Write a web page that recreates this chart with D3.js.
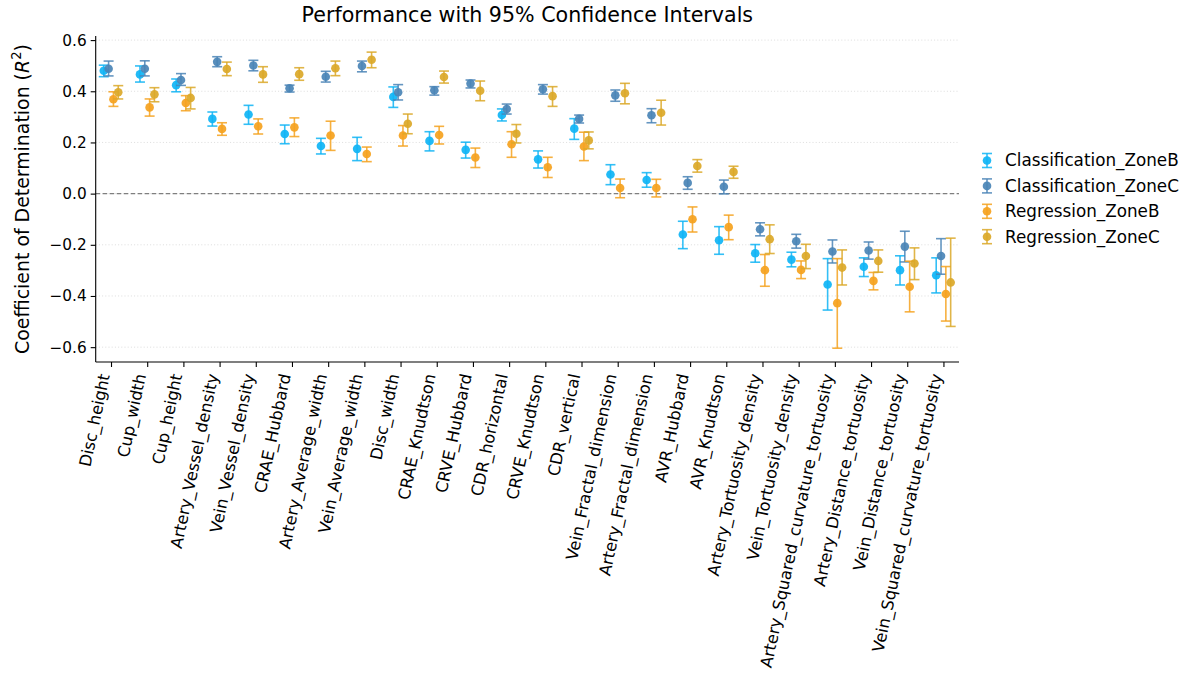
<!DOCTYPE html>
<html>
<head>
<meta charset="utf-8">
<script src="https://cdn.jsdelivr.net/npm/d3@7"></script>
<style>
  html, body { margin: 0; padding: 0; background: #ffffff; }
  svg { display: block; font-family: "DejaVu Sans", sans-serif; }
</style>
</head>
<body>
<svg id="chart" width="1189" height="673"></svg>
<script>
// Features, in plotted order
const features = [
  "Disc_height", "Cup_width", "Cup_height", "Artery_Vessel_density", "Vein_Vessel_density",
  "CRAE_Hubbard", "Artery_Average_width", "Vein_Average_width", "Disc_width", "CRAE_Knudtson",
  "CRVE_Hubbard", "CDR_horizontal", "CRVE_Knudtson", "CDR_vertical", "Vein_Fractal_dimension",
  "Artery_Fractal_dimension", "AVR_Hubbard", "AVR_Knudtson", "Artery_Tortuosity_density",
  "Vein_Tortuosity_density", "Artery_Squared_curvature_tortuosity", "Artery_Distance_tortuosity",
  "Vein_Distance_tortuosity", "Vein_Squared_curvature_tortuosity"
];

const seriesNames = ["Classification_ZoneB", "Classification_ZoneC", "Regression_ZoneB", "Regression_ZoneC"];
const seriesColors = ["#0fb4f5", "#4a84b6", "#f5a21e", "#dba828"];

// R² mean, lower and upper 95% CI bounds per series
const classZoneBMean = [0.480, 0.466, 0.424, 0.292, 0.309, 0.233, 0.186, 0.175, 0.378, 0.206, 0.171, 0.307, 0.134, 0.254, 0.075, 0.053, -0.160, -0.182, -0.233, -0.258, -0.355, -0.286, -0.299, -0.319];
const classZoneBLow  = [0.457, 0.436, 0.398, 0.264, 0.271, 0.195, 0.155, 0.129, 0.337, 0.167, 0.139, 0.284, 0.100, 0.212, 0.035, 0.025, -0.215, -0.237, -0.268, -0.286, -0.455, -0.324, -0.357, -0.388];
const classZoneBHigh = [0.502, 0.499, 0.448, 0.319, 0.345, 0.268, 0.216, 0.220, 0.417, 0.242, 0.201, 0.331, 0.167, 0.293, 0.113, 0.082, -0.108, -0.129, -0.199, -0.229, -0.254, -0.251, -0.243, -0.251];

const classZoneCMean = [0.488, 0.488, 0.444, 0.515, 0.501, 0.412, 0.457, 0.499, 0.396, 0.404, 0.430, 0.331, 0.408, 0.292, 0.384, 0.306, 0.042, 0.027, -0.139, -0.186, -0.226, -0.222, -0.207, -0.244];
const classZoneCLow  = [0.460, 0.460, 0.423, 0.496, 0.480, 0.397, 0.436, 0.476, 0.366, 0.385, 0.413, 0.311, 0.389, 0.276, 0.361, 0.277, 0.017, -0.001, -0.165, -0.213, -0.271, -0.256, -0.267, -0.315];
const classZoneCHigh = [0.518, 0.519, 0.469, 0.535, 0.521, 0.424, 0.478, 0.518, 0.426, 0.418, 0.444, 0.350, 0.426, 0.307, 0.405, 0.332, 0.066, 0.053, -0.114, -0.159, -0.181, -0.189, -0.147, -0.176];

const regZoneBMean = [0.369, 0.337, 0.354, 0.253, 0.263, 0.259, 0.227, 0.155, 0.227, 0.229, 0.141, 0.193, 0.103, 0.184, 0.022, 0.022, -0.100, -0.131, -0.299, -0.298, -0.428, -0.341, -0.364, -0.392];
const regZoneBLow  = [0.341, 0.303, 0.324, 0.228, 0.233, 0.223, 0.169, 0.125, 0.186, 0.194, 0.102, 0.142, 0.063, 0.129, -0.016, -0.013, -0.150, -0.180, -0.362, -0.332, -0.604, -0.376, -0.462, -0.498];
const regZoneBHigh = [0.398, 0.370, 0.383, 0.277, 0.292, 0.296, 0.283, 0.182, 0.266, 0.263, 0.178, 0.242, 0.142, 0.240, 0.057, 0.056, -0.052, -0.084, -0.238, -0.263, -0.254, -0.308, -0.264, -0.285];

const regZoneCMean = [0.396, 0.388, 0.374, 0.487, 0.466, 0.467, 0.490, 0.523, 0.273, 0.456, 0.402, 0.234, 0.381, 0.208, 0.392, 0.316, 0.108, 0.085, -0.178, -0.244, -0.289, -0.263, -0.273, -0.347];
const regZoneCLow  = [0.370, 0.359, 0.331, 0.461, 0.435, 0.443, 0.461, 0.492, 0.234, 0.432, 0.363, 0.198, 0.341, 0.175, 0.351, 0.268, 0.084, 0.060, -0.234, -0.293, -0.357, -0.307, -0.336, -0.519];
const regZoneCHigh = [0.422, 0.414, 0.415, 0.514, 0.496, 0.492, 0.518, 0.553, 0.311, 0.479, 0.440, 0.270, 0.418, 0.241, 0.431, 0.365, 0.133, 0.107, -0.122, -0.198, -0.220, -0.220, -0.212, -0.174];

const yTicks = [-0.6, -0.4, -0.2, 0.0, 0.2, 0.4, 0.6];

const seriesData = [
  [classZoneBMean, classZoneBLow, classZoneBHigh],
  [classZoneCMean, classZoneCLow, classZoneCHigh],
  [regZoneBMean, regZoneBLow, regZoneBHigh],
  [regZoneCMean, regZoneCLow, regZoneCHigh]
].map(([m, lo, hi], s) => ({
  name: seriesNames[s],
  color: seriesColors[s],
  points: features.map((f, i) => ({ i, mean: m[i], low: lo[i], high: hi[i] }))
}));

const svg = d3.select("#chart");
const plot = { left: 95.7, right: 959, top: 36, bottom: 362 };

const x = d3.scaleLinear().domain([-0.423, features.length - 1 + 0.43]).range([plot.left, plot.right]);
const y = d3.scaleLinear().domain([-0.658, 0.616]).range([plot.bottom, plot.top]);
const groupStep = 0.1333;
const offset = s => (s - 1.5) * groupStep;
const capHalf = 5;

// Horizontal dotted grid
svg.append("g")
  .selectAll("line")
  .data(yTicks)
  .join("line")
  .attr("x1", plot.left).attr("x2", plot.right)
  .attr("y1", d => y(d)).attr("y2", d => y(d))
  .attr("stroke", "#d9d9d9").attr("stroke-width", 0.9)
  .attr("stroke-dasharray", "1,2.2");

// Zero reference line
svg.append("line")
  .attr("x1", plot.left).attr("x2", plot.right)
  .attr("y1", y(0)).attr("y2", y(0))
  .attr("stroke", "#7f7f7f").attr("stroke-width", 1.1)
  .attr("stroke-dasharray", "4.5,2.5");

// Error bars and markers, one series at a time
seriesData.forEach((ser, s) => {
  const g = svg.append("g");
  const pts = g.selectAll("g.pt").data(ser.points).join("g").attr("class", "pt");
  const px = d => x(d.i + offset(s));
  pts.append("line")
    .attr("x1", px).attr("x2", px)
    .attr("y1", d => y(d.low)).attr("y2", d => y(d.high))
    .attr("stroke", ser.color).attr("stroke-width", 1.6).attr("stroke-opacity", 0.85);
  [d => d.low, d => d.high].forEach(acc => {
    pts.append("line")
      .attr("x1", d => px(d) - capHalf).attr("x2", d => px(d) + capHalf)
      .attr("y1", d => y(acc(d))).attr("y2", d => y(acc(d)))
      .attr("stroke", ser.color).attr("stroke-width", 1.6).attr("stroke-opacity", 0.85);
  });
  pts.append("circle")
    .attr("cx", px).attr("cy", d => y(d.mean)).attr("r", 4.3)
    .attr("fill", ser.color).attr("fill-opacity", 0.92);
});

// Y axis
const yAxis = svg.append("g")
  .attr("transform", `translate(${plot.left},0)`)
  .call(d3.axisLeft(y).tickValues(yTicks).tickSize(5).tickPadding(4)
    .tickFormat(d => d3.format(".1f")(d).replace("-", "\u2212")));
yAxis.select(".domain").attr("d", `M0,${plot.top}V${plot.bottom}`).attr("stroke", "#000").attr("stroke-width", 1.1);
yAxis.selectAll(".tick line").attr("stroke", "#000").attr("stroke-width", 1.1);
yAxis.selectAll(".tick text").attr("font-size", 15.3).attr("fill", "#000")
  .attr("font-family", "DejaVu Sans");

// X axis with rotated feature labels
const xAxis = svg.append("g")
  .attr("transform", `translate(0,${plot.bottom})`)
  .call(d3.axisBottom(x).tickValues(d3.range(features.length)).tickSize(5)
    .tickFormat(i => features[i]));
xAxis.select(".domain").attr("d", `M${plot.left},0H${plot.right}`).attr("stroke", "#000").attr("stroke-width", 1.1);
xAxis.selectAll(".tick line").attr("stroke", "#000").attr("stroke-width", 1.1);
xAxis.selectAll(".tick text")
  .attr("font-size", 16.3).attr("fill", "#000").attr("font-family", "DejaVu Sans")
  .attr("text-anchor", "end")
  .attr("dy", null).attr("y", 0)
  .attr("transform", "translate(-7,12) rotate(-78)")
  .attr("dominant-baseline", "central");

// Title, centred over the axes
const title = svg.append("text")
  .attr("x", 0).attr("y", 22)
  .attr("font-size", 20.6).attr("fill", "#000")
  .text("Performance with 95% Confidence Intervals");
const tw = title.node().getComputedTextLength();
title.attr("x", (plot.left + plot.right) / 2 - tw / 2);

// Y axis label with italic R and superscript 2, centred on the axis span
const yl = svg.append("text")
  .attr("font-size", 18.9).attr("fill", "#000");
yl.append("tspan").text("Coefficient of Determination (");
yl.append("tspan").attr("font-style", "italic").text("R");
yl.append("tspan").attr("font-size", 13.2).attr("dy", -7.5).text("2");
yl.append("tspan").attr("dy", 7.5).text(")");
const lb = yl.node().getBBox();
const labelMid = 199;
yl.attr("transform", `translate(28.5,${labelMid + lb.x + lb.width / 2}) rotate(-90)`);

// Legend
const legend = svg.append("g").attr("transform", "translate(987,160.5)");
const rows = legend.selectAll("g").data(seriesData).join("g")
  .attr("transform", (d, i) => `translate(0,${i * 25.4})`);
rows.append("line").attr("x1", 0).attr("x2", 0).attr("y1", -7).attr("y2", 7)
  .attr("stroke", d => d.color).attr("stroke-width", 1.6).attr("stroke-opacity", 0.85);
[-7, 7].forEach(v => rows.append("line").attr("x1", -capHalf).attr("x2", capHalf).attr("y1", v).attr("y2", v)
  .attr("stroke", d => d.color).attr("stroke-width", 1.6).attr("stroke-opacity", 0.85));
rows.append("circle").attr("r", 4.3).attr("fill", d => d.color).attr("fill-opacity", 0.92);
rows.append("text").attr("x", 18).attr("y", 0).attr("dy", "0.35em")
  .attr("font-size", 16.8).attr("fill", "#000").text(d => d.name);
</script>
</body>
</html>
